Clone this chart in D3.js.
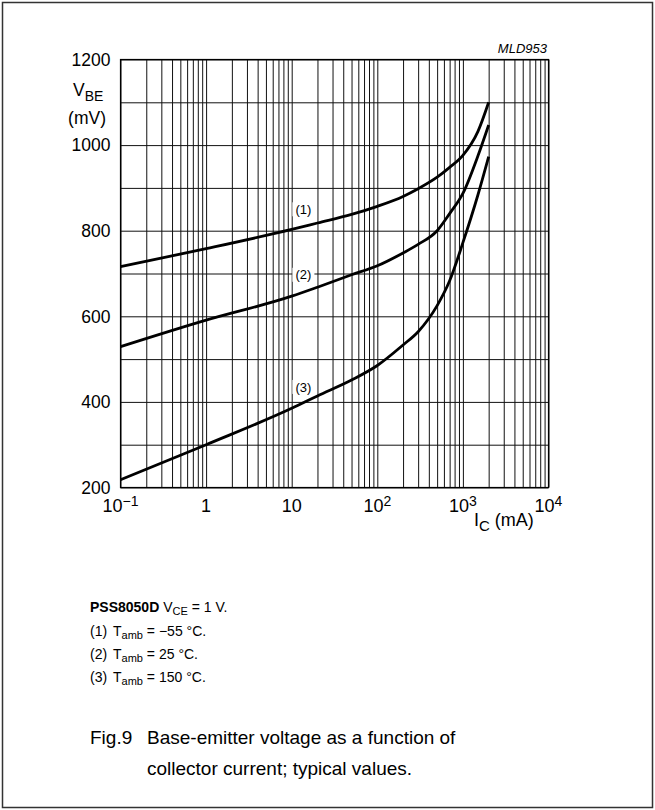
<!DOCTYPE html>
<html>
<head>
<meta charset="utf-8">
<script src="https://cdn.jsdelivr.net/npm/d3@7"></script>
<style>
  html, body { margin: 0; padding: 0; background: #fff; }
  svg { display: block; font-family: "Liberation Sans", Arial, Helvetica, sans-serif; }
</style>
</head>
<body>
<svg id="chart" width="655" height="810"></svg>
<script>
// Collector current (mA) at which the curves are sampled
const currentMA = [0.1, 1, 10, 20, 50, 100, 200, 300, 500, 700, 1000, 1500, 2000];
// V_BE (mV) for each ambient temperature
const vbeMinus55 = [716, 758, 803, 818, 838, 857, 880, 898, 925, 948, 976, 1032, 1100];
const vbe25      = [529, 591, 647, 668, 697, 718, 748, 768, 800, 840, 887, 975, 1047];
const vbe150     = [218, 300, 385, 414, 451, 485, 533, 564, 625, 683, 772, 884, 973];
const curveTags  = ["(1)", "(2)", "(3)"];
// Axis ticks
const yTicks = [200, 400, 600, 800, 1000, 1200];
const yGrid  = d3.range(200, 1201, 100);
const xDecades = [-1, 0, 1, 2, 3, 4];
// Legend lines
const legendTemps = ["\u221255 \u00B0C.", "25 \u00B0C.", "150 \u00B0C."];

const svg = d3.select("#chart");

// outer frame
svg.append("rect")
  .attr("x", 2.5).attr("y", 2.5).attr("width", 650).attr("height", 805)
  .attr("fill", "none").attr("stroke", "#333").attr("stroke-width", 1.5);

const pLeft = 120.5, pTop = 59.5, pRight = 548.5, pBottom = 487.5;
const x = d3.scaleLog().domain([0.1, 10000]).range([pLeft, pRight]);
const y = d3.scaleLinear().domain([200, 1200]).range([pBottom, pTop]);

// vertical grid: 1..9 per decade
const xGrid = [];
for (let d = -1; d < 4; d++) for (let m = 1; m < 10; m++) xGrid.push(m * Math.pow(10, d));
xGrid.push(10000);

const g = svg.append("g");
g.append("g")
  .attr("transform", `translate(0,${pBottom})`)
  .call(d3.axisBottom(x).tickValues(xGrid).tickSize(-(pBottom - pTop)).tickFormat(""))
  .call(s => s.select(".domain").remove())
  .selectAll("line").attr("stroke", "#111").attr("stroke-width", 1);

g.append("g")
  .attr("transform", `translate(${pLeft},0)`)
  .call(d3.axisLeft(y).tickValues(yGrid).tickSize(-(pRight - pLeft)).tickFormat(""))
  .call(s => s.select(".domain").remove())
  .selectAll("line").attr("stroke", "#111").attr("stroke-width", 1);

g.append("rect")
  .attr("x", pLeft).attr("y", pTop).attr("width", pRight - pLeft).attr("height", pBottom - pTop)
  .attr("fill", "none").attr("stroke", "#000").attr("stroke-width", 1.2);

// y tick labels
svg.append("g").selectAll("text").data(yTicks).join("text")
  .attr("x", pLeft - 10).attr("y", d => y(d)).attr("dy", "0.36em")
  .attr("text-anchor", "end").attr("font-size", 17.5).text(d => d);

// x tick labels: 10^-1, 1, 10, 10^2 ...
const xl = svg.append("g").attr("font-size", 18);
xDecades.forEach(p => {
  const t = xl.append("text").attr("x", x(Math.pow(10, p))).attr("y", pBottom + 24)
    .attr("text-anchor", "middle");
  if (p === 0) t.text("1");
  else if (p === 1) t.text("10");
  else {
    t.append("tspan").text("10");
    t.append("tspan").attr("dy", -6).attr("font-size", 14)
      .text(p < 0 ? "\u2212" + (-p) : String(p));
  }
});

// axis titles
const yt = svg.append("text").attr("x", 73).attr("y", 96).attr("font-size", 17.5);
yt.append("tspan").text("V");
yt.append("tspan").attr("dy", 5).attr("font-size", 14).text("BE");
svg.append("text").attr("x", 106).attr("y", 124).attr("text-anchor", "end")
  .attr("font-size", 17.5).text("(mV)");

const xt = svg.append("text").attr("x", 474).attr("y", 526).attr("font-size", 18);
xt.append("tspan").text("I");
xt.append("tspan").attr("dy", 5).attr("font-size", 15).text("C");
xt.append("tspan").attr("dy", -5).text(" (mA)");

svg.append("text").attr("x", 547).attr("y", 53).attr("text-anchor", "end")
  .attr("font-size", 13).attr("font-style", "italic").text("MLD953");

// white backing behind the curve tags (hides grid only)
const tagPos = [[13.7, 850], [13.7, 697], [13.7, 435]];
const tagXY = tagPos.map(p => [x(p[0]), y(p[1])]);
svg.append("g").selectAll("rect").data(tagXY).join("rect")
  .attr("x", d => d[0] - 11).attr("y", d => d[1] - 7).attr("width", 22).attr("height", 14)
  .attr("fill", "#fff");

// curves
const series = [vbeMinus55, vbe25, vbe150];
const line = d3.line().x(d => x(d[0])).y(d => y(d[1])).curve(d3.curveMonotoneX);
svg.append("g").selectAll("path").data(series).join("path")
  .attr("d", vals => line(currentMA.map((c, i) => [c, vals[i]])))
  .attr("fill", "none").attr("stroke", "#000").attr("stroke-width", 2.8)
  .attr("stroke-linejoin", "round");

// curve tags
svg.append("g").attr("font-size", 13).selectAll("text").data(tagXY).join("text")
  .attr("x", d => d[0]).attr("y", d => d[1]).attr("dy", "0.36em")
  .attr("text-anchor", "middle").text((d, i) => curveTags[i]);

// legend
const lg = svg.append("g").attr("font-size", 14);
const l0 = lg.append("text").attr("x", 90).attr("y", 612);
l0.append("tspan").attr("font-weight", "bold").text("PSS8050D");
l0.append("tspan").text(" V");
l0.append("tspan").attr("dy", 3).attr("font-size", 11).text("CE");
l0.append("tspan").attr("dy", -3).text(" = 1 V.");
legendTemps.forEach((tx, i) => {
  const yy = 636 + i * 23;
  lg.append("text").attr("x", 90).attr("y", yy).text(curveTags[i]);
  const t = lg.append("text").attr("x", 113).attr("y", yy);
  t.append("tspan").text("T");
  t.append("tspan").attr("dy", 3).attr("font-size", 11).text("amb");
  t.append("tspan").attr("dy", -3).text(" = " + tx);
});

// caption
const cap = svg.append("g").attr("font-size", 19);
cap.append("text").attr("x", 90).attr("y", 744).text("Fig.9");
cap.append("text").attr("x", 147).attr("y", 744).text("Base-emitter voltage as a function of");
cap.append("text").attr("x", 147).attr("y", 775).text("collector current; typical values.");
</script>
</body>
</html>
